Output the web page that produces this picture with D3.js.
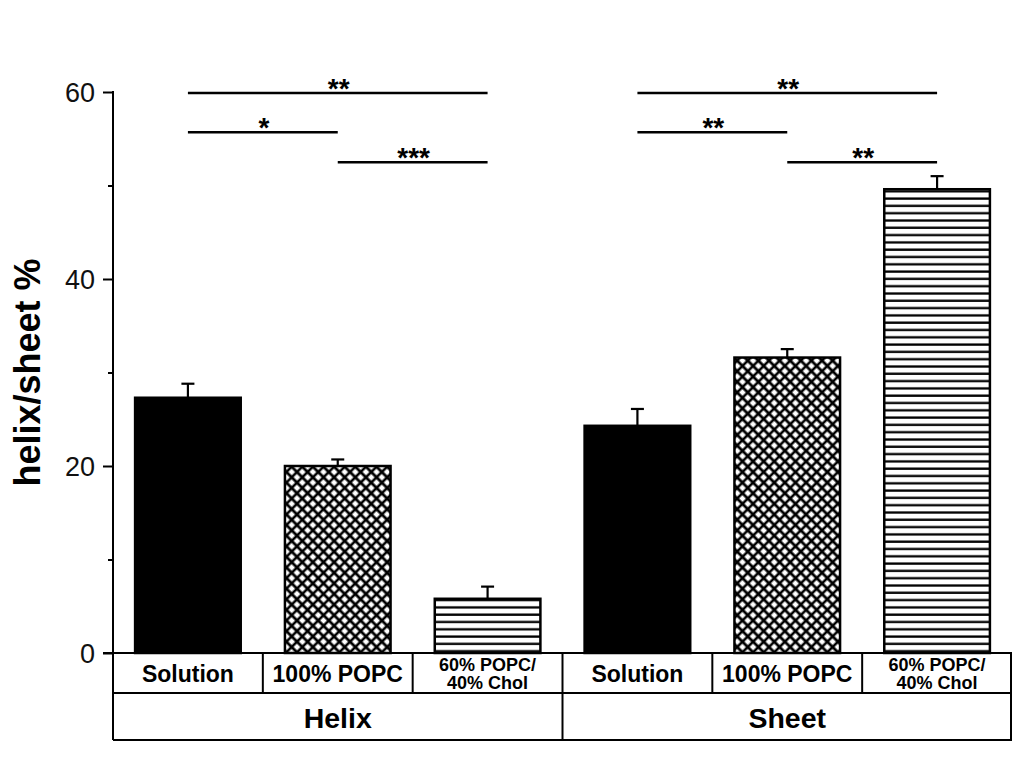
<!DOCTYPE html>
<html>
<head>
<meta charset="utf-8">
<script src="https://cdn.jsdelivr.net/npm/d3@7"></script>
<style>
	body { margin: 0; background: #fff; }
	svg { display: block; font-family: "Liberation Sans", Arial, sans-serif; }
</style>
</head>
<body>
<svg id="chart" width="1012" height="776"></svg>
<script>
// ---- data ----
var groups = ["Helix", "Sheet"];
var conditions = ["Solution", "100% POPC", "60% POPC/|40% Chol"];
var fills = ["solid", "cross", "stripes"];

var helixValues = [27.3, 20.0, 5.8];
var helixErrors = [1.5, 0.7, 1.3];
var sheetValues = [24.3, 31.6, 49.6];
var sheetErrors = [1.8, 0.9, 1.4];

var majorTicks = [0, 20, 40, 60];
var minorTicks = [10, 30, 50];

// significance brackets: [from condition, to condition, level, label]
var helixSig = [[0, 2, 59.9, "**"], [0, 1, 55.7, "*"], [1, 2, 52.5, "***"]];
var sheetSig = [[0, 2, 59.9, "**"], [0, 1, 55.7, "**"], [1, 2, 52.5, "**"]];

var allValues = [helixValues, sheetValues];
var allErrors = [helixErrors, sheetErrors];
var allSig = [helixSig, sheetSig];

var data = [];
groups.forEach(function(g, gi) {
	conditions.forEach(function(c, ci) {
		data.push({key: g + ci, group: g, cond: c, fill: fills[ci], value: allValues[gi][ci], err: allErrors[gi][ci]});
	});
});

//-------------------------------- D3 ---------------------------------
var svg = d3.select("#chart");
var plotLeft = 113, plotRight = 1012, plotTop = 92, plotBottom = 653;

var x = d3.scaleBand().domain(data.map(function(d) { return d.key; })).range([plotLeft, plotRight]);
var y = d3.scaleLinear().domain([0, 60]).range([plotBottom, plotTop]);
var barW = x.bandwidth() * 0.705;

var defs = svg.append("defs");
var cross = defs.append("pattern").attr("id", "cross")
	.attr("patternUnits", "userSpaceOnUse").attr("width", 7.5).attr("height", 7.5)
	.attr("patternTransform", "rotate(45)");
cross.append("rect").attr("width", 7.5).attr("height", 7.5).attr("fill", "#fff");
cross.append("path").attr("d", "M0,3.75H7.5M3.75,0V7.5").attr("stroke", "#000").attr("stroke-width", 2.6);

var stripes = defs.append("pattern").attr("id", "stripes")
	.attr("patternUnits", "userSpaceOnUse").attr("width", 10).attr("height", 7.3);
stripes.append("rect").attr("width", 10).attr("height", 7.3).attr("fill", "#fff");
stripes.append("path").attr("d", "M0,1.5H10").attr("stroke", "#000").attr("stroke-width", 2.3);

// bars
svg.selectAll(".bar").data(data).enter().append("rect")
	.attr("x", function(d) { return x(d.key) + (x.bandwidth() - barW) / 2; })
	.attr("y", function(d) { return y(d.value); })
	.attr("width", barW)
	.attr("height", function(d) { return y(0) - y(d.value); })
	.attr("fill", function(d) { return d.fill == "solid" ? "#000" : "url(#" + d.fill + ")"; })
	.attr("stroke", "#000").attr("stroke-width", 2.5);

// error bars (upper only)
var eb = svg.selectAll(".err").data(data).enter().append("g")
	.attr("stroke", "#000").attr("stroke-width", 2.2);
eb.append("line")
	.attr("x1", function(d) { return x(d.key) + x.bandwidth() / 2; })
	.attr("x2", function(d) { return x(d.key) + x.bandwidth() / 2; })
	.attr("y1", function(d) { return y(d.value); })
	.attr("y2", function(d) { return y(d.value + d.err); });
eb.append("line")
	.attr("x1", function(d) { return x(d.key) + x.bandwidth() / 2 - 6.5; })
	.attr("x2", function(d) { return x(d.key) + x.bandwidth() / 2 + 6.5; })
	.attr("y1", function(d) { return y(d.value + d.err); })
	.attr("y2", function(d) { return y(d.value + d.err); });

// y axis
var yAxis = svg.append("g").attr("transform", "translate(" + plotLeft + ",0)")
	.call(d3.axisLeft(y).tickValues(majorTicks).tickSize(10).tickPadding(8));
yAxis.select(".domain").attr("stroke-width", 2).attr("d", "M0," + (plotTop - 1) + "V" + plotBottom);
yAxis.selectAll(".tick line").attr("stroke-width", 2);
yAxis.selectAll(".tick text").attr("font-size", 27).attr("fill", "#111")
	.attr("font-family", "Liberation Sans, Arial, sans-serif").attr("dy", "0.36em");
svg.append("g").attr("transform", "translate(" + plotLeft + ",0)")
	.call(d3.axisLeft(y).tickValues(minorTicks).tickSize(5).tickFormat(""))
	.call(function(g) { g.select(".domain").remove(); })
	.selectAll(".tick line").attr("stroke-width", 2);

svg.append("text")
	.attr("transform", "translate(40," + ((plotTop + plotBottom) / 2) + ") rotate(-90)")
	.attr("text-anchor", "middle")
	.attr("font-size", 36).attr("font-weight", "bold")
	.text("helix/sheet %");

// category table
var row1 = 693, row2 = 740;
var table = svg.append("g").attr("stroke", "#000").attr("stroke-width", 2).attr("fill", "none");
table.append("line").attr("x1", plotLeft - 10).attr("x2", plotRight).attr("y1", plotBottom).attr("y2", plotBottom);
table.append("line").attr("x1", plotLeft).attr("x2", plotRight).attr("y1", row1).attr("y2", row1);
table.append("line").attr("x1", plotLeft).attr("x2", plotRight).attr("y1", row2).attr("y2", row2);
table.append("line").attr("x1", plotLeft).attr("x2", plotLeft).attr("y1", plotBottom).attr("y2", row2);
table.append("line").attr("x1", plotRight - 1).attr("x2", plotRight - 1).attr("y1", plotBottom).attr("y2", row2);
table.selectAll(".cdiv").data(data.slice(1)).enter().append("line")
	.attr("x1", function(d) { return x(d.key); })
	.attr("x2", function(d) { return x(d.key); })
	.attr("y1", plotBottom)
	.attr("y2", function(d, i) { return (i + 1) % 3 == 0 ? row2 : row1; });

svg.selectAll(".clab").data(data).enter().append("text")
	.attr("x", function(d) { return x(d.key) + x.bandwidth() / 2; })
	.attr("text-anchor", "middle").attr("font-weight", "bold")
	.each(function(d) {
		var t = d3.select(this), parts = d.cond.split("|");
		if (parts.length == 1) {
			t.attr("y", 682).attr("font-size", 23).text(parts[0]);
		} else {
			t.attr("font-size", 18);
			t.append("tspan").attr("x", x(d.key) + x.bandwidth() / 2).attr("y", 671).text(parts[0]);
			t.append("tspan").attr("x", x(d.key) + x.bandwidth() / 2).attr("y", 689).text(parts[1]);
		}
	});

svg.selectAll(".glab").data(groups).enter().append("text")
	.attr("x", function(g) { return (x(g + 0) + x(g + 2) + x.bandwidth()) / 2; })
	.attr("y", 728)
	.attr("text-anchor", "middle").attr("font-weight", "bold").attr("font-size", 28.5)
	.text(function(g) { return g; });

// significance brackets
groups.forEach(function(g, gi) {
	var s = svg.append("g");
	allSig[gi].forEach(function(b) {
		var x1 = x(g + b[0]) + x.bandwidth() / 2, x2 = x(g + b[1]) + x.bandwidth() / 2;
		s.append("line").attr("x1", x1).attr("x2", x2)
			.attr("y1", y(b[2])).attr("y2", y(b[2]))
			.attr("stroke", "#000").attr("stroke-width", 2.5);
		s.append("text").attr("x", (x1 + x2) / 2 + 1).attr("y", y(b[2]) + 5)
			.attr("text-anchor", "middle").attr("font-size", 28).attr("font-weight", "bold")
			.text(b[3]);
	});
});
</script>
</body>
</html>
